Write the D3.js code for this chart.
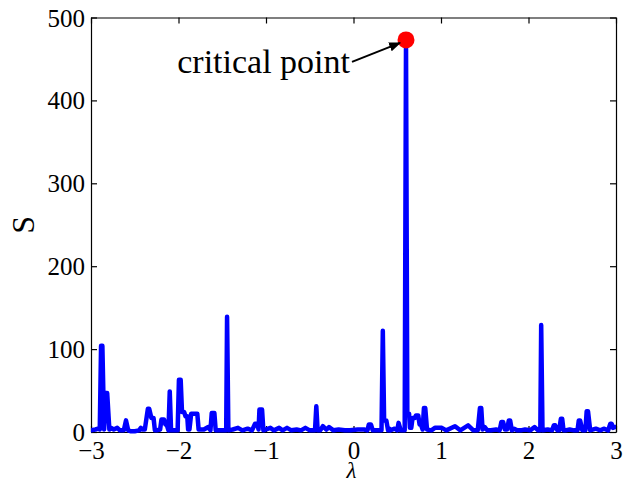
<!DOCTYPE html>
<html>
<head>
<meta charset="utf-8">
<script src="https://cdn.jsdelivr.net/npm/d3@7"></script>
<style>
  body { margin: 0; background: #fff; }
  svg { display: block; }
  svg text { font-family: "Liberation Serif" !important; }
</style>
</head>
<body>
<svg id="chart"></svg>
<script>
// S versus lambda, with the critical point marked

// Data (lambda, S)
const lambdaVals = [
  -3.00, -2.95, -2.92, -2.90, -2.885, -2.87, -2.85, -2.83, -2.815, -2.79, -2.77, -2.74, -2.70, -2.67,
  -2.625, -2.60, -2.575, -2.55, -2.50, -2.45, -2.43, -2.41, -2.385, -2.35, -2.335, -2.31, -2.285, -2.27,
  -2.25, -2.21, -2.195, -2.165, -2.15, -2.135, -2.115, -2.10, -2.085, -2.07, -2.01, -1.995, -1.975, -1.96,
  -1.935, -1.92, -1.90, -1.89, -1.875, -1.855, -1.785, -1.77, -1.71, -1.66, -1.635, -1.62, -1.59, -1.575,
  -1.48, -1.455, -1.445, -1.43, -1.38, -1.32, -1.27, -1.21, -1.16, -1.125, -1.10, -1.085, -1.075, -1.045,
  -1.03, -0.95, -0.91, -0.85, -0.81, -0.76, -0.71, -0.65, -0.60, -0.55, -0.50, -0.44, -0.425, -0.41,
  -0.38, -0.35, -0.31, -0.28, -0.23, -0.17, -0.10, -0.04, 0.05, 0.12, 0.16, 0.175, 0.20, 0.22, 0.29,
  0.32, 0.335, 0.35, 0.375, 0.395, 0.41, 0.42, 0.47, 0.50, 0.515, 0.54, 0.585, 0.60, 0.615, 0.635,
  0.645, 0.66, 0.675, 0.70, 0.715, 0.74, 0.755, 0.77, 0.79, 0.805, 0.82, 0.84, 0.89, 0.93, 1.01, 1.06,
  1.16, 1.22, 1.31, 1.37, 1.42, 1.445, 1.46, 1.475, 1.50, 1.53, 1.57, 1.63, 1.67, 1.69, 1.71, 1.73,
  1.755, 1.775, 1.79, 1.81, 1.835, 1.87, 1.91, 1.96, 2.02, 2.07, 2.11, 2.135, 2.145, 2.16, 2.22, 2.27,
  2.29, 2.305, 2.33, 2.35, 2.37, 2.385, 2.40, 2.42, 2.47, 2.52, 2.56, 2.575, 2.59, 2.615, 2.65, 2.665,
  2.68, 2.705, 2.77, 2.82, 2.86, 2.91, 2.935, 2.95, 2.965, 2.985, 3.00
];
const sVals = [
  2, 3, 4, 3, 104, 104, 3, 47, 47, 3, 5, 3, 5, 2,
  2, 14, 2, 1, 1, 2, 5, 3, 3, 28, 28, 17, 17, 2,
  2, 3, 15, 15, 9, 9, 2, 49, 2, 2, 2, 63, 63, 24,
  24, 19, 19, 3, 3, 22, 22, 3, 3, 6, 2, 23, 23, 2,
  2, 2, 139, 2, 3, 5, 2, 4, 2, 10, 10, 3, 27, 27,
  2, 5, 2, 5, 2, 5, 2, 3, 2, 5, 2, 2, 31, 2,
  2, 7, 3, 6, 2, 3, 2, 2, 3, 3, 2, 9, 9, 2, 2,
  2, 122, 14, 14, 2, 4, 2, 4, 2, 11, 2, 2, 473, 22, 22,
  5, 5, 17, 17, 20, 20, 9, 9, 3, 29, 29, 3, 2, 5, 5, 2,
  7, 2, 8, 2, 2, 29, 29, 3, 6, 2, 2, 3, 2, 12, 12, 3,
  3, 14, 14, 2, 4, 2, 2, 3, 2, 6, 2, 2, 129, 2, 3, 2,
  8, 8, 2, 2, 16, 16, 2, 2, 3, 2, 2, 14, 14, 2, 2, 25,
  25, 2, 4, 2, 4, 2, 10, 10, 5, 6, 6
];

// Critical point and its label
const criticalPoint = { lambda: 0.6, s: 473 };
const criticalLabel = "critical point";

// Tick values
const xTicks = [-3, -2, -1, 0, 1, 2, 3];
const yTicks = [0, 100, 200, 300, 400, 500];

const data = lambdaVals.map((l, i) => ({ lambda: l, s: sVals[i] }));

const serif = "Liberation Serif";

// Dimensions and margins
const margin = { top: 17.5, right: 8, bottom: 53, left: 91 };
const width = 624 - margin.left - margin.right;
const height = 485 - margin.top - margin.bottom;

const svg = d3.select("#chart")
    .attr("width", width + margin.left + margin.right)
    .attr("height", height + margin.top + margin.bottom);

const g = svg.append("g")
    .attr("transform", "translate(" + margin.left + "," + margin.top + ")");

// Scales
const xScale = d3.scaleLinear().domain([-3, 3]).range([0, width]);
const yScale = d3.scaleLinear().domain([0, 500]).range([height, 0]);

// Axes with inward ticks on all four sides (box on)
const fmt = d3.format("d");

g.append("g")
    .attr("class", "x-axis")
    .attr("transform", "translate(0," + height + ")")
    .call(d3.axisBottom(xScale).tickValues(xTicks).tickFormat(fmt).tickSize(-6).tickSizeOuter(0).tickPadding(9));

g.append("g")
    .attr("class", "y-axis")
    .call(d3.axisLeft(yScale).tickValues(yTicks).tickFormat(fmt).tickSize(-6).tickSizeOuter(0).tickPadding(6));

g.append("g")
    .call(d3.axisTop(xScale).tickValues(xTicks).tickSize(-6).tickSizeOuter(0).tickFormat(""));

g.append("g")
    .attr("transform", "translate(" + width + ",0)")
    .call(d3.axisRight(yScale).tickValues(yTicks).tickSize(-6).tickSizeOuter(0).tickFormat(""));

g.selectAll("g").attr("font-family", null).attr("font-size", null);
g.selectAll(".domain, .tick line").attr("stroke", "#000").attr("stroke-width", 1.2);
g.selectAll(".tick text").attr("fill", "#000").style("font-size", "25px");
g.selectAll(".y-axis .tick text").attr("dy", "0.34em");

// Clip so the curve stays inside the box
svg.append("defs").append("clipPath")
    .attr("id", "plot-clip")
  .append("rect")
    .attr("x", 0).attr("y", -10)
    .attr("width", width).attr("height", height + 12);

// The S curve
const line = d3.line()
    .x(d => xScale(d.lambda))
    .y(d => yScale(d.s));

g.append("path")
    .datum(data)
    .attr("clip-path", "url(#plot-clip)")
    .attr("fill", "none")
    .attr("stroke", "#0000ff")
    .attr("stroke-width", 4.5)
    .attr("stroke-linejoin", "round")
    .attr("stroke-linecap", "round")
    .attr("d", line);

// Critical point marker
const cx = xScale(criticalPoint.lambda);
const cy = yScale(criticalPoint.s);

g.append("circle")
    .attr("cx", cx)
    .attr("cy", cy)
    .attr("r", 8.5)
    .attr("fill", "#ff0000");

// Arrow from the label to the point
svg.append("defs").append("marker")
    .attr("id", "arrowhead")
    .attr("viewBox", "0 0 10 10")
    .attr("refX", 9).attr("refY", 5)
    .attr("markerWidth", 6).attr("markerHeight", 6)
    .attr("markerUnits", "strokeWidth")
    .attr("orient", "auto")
  .append("path")
    .attr("d", "M0,1 L10,5 L0,9 z")
    .attr("fill", "#000");

g.append("line")
    .attr("x1", cx - 54).attr("y1", cy + 22)
    .attr("x2", cx - 6).attr("y2", cy + 3)
    .attr("stroke", "#000")
    .attr("stroke-width", 2)
    .attr("marker-end", "url(#arrowhead)");

g.append("text")
    .attr("x", cx - 56)
    .attr("y", cy + 33)
    .attr("text-anchor", "end")
    .style("font-size", "34px")
    .text(criticalLabel);

// Axis labels
svg.append("text")
    .attr("transform", "translate(34," + (margin.top + height / 2) + ") rotate(-90)")
    .attr("text-anchor", "middle")
    .style("font-size", "32px")
    .text("S");

svg.append("text")
    .attr("x", margin.left + xScale(0) - 2)
    .attr("y", 478)
    .attr("text-anchor", "middle")
    .style("font-size", "23px")
    .style("font-style", "italic")
    .text("λ");

svg.selectAll("text").style("font-family", serif);
</script>
</body>
</html>
